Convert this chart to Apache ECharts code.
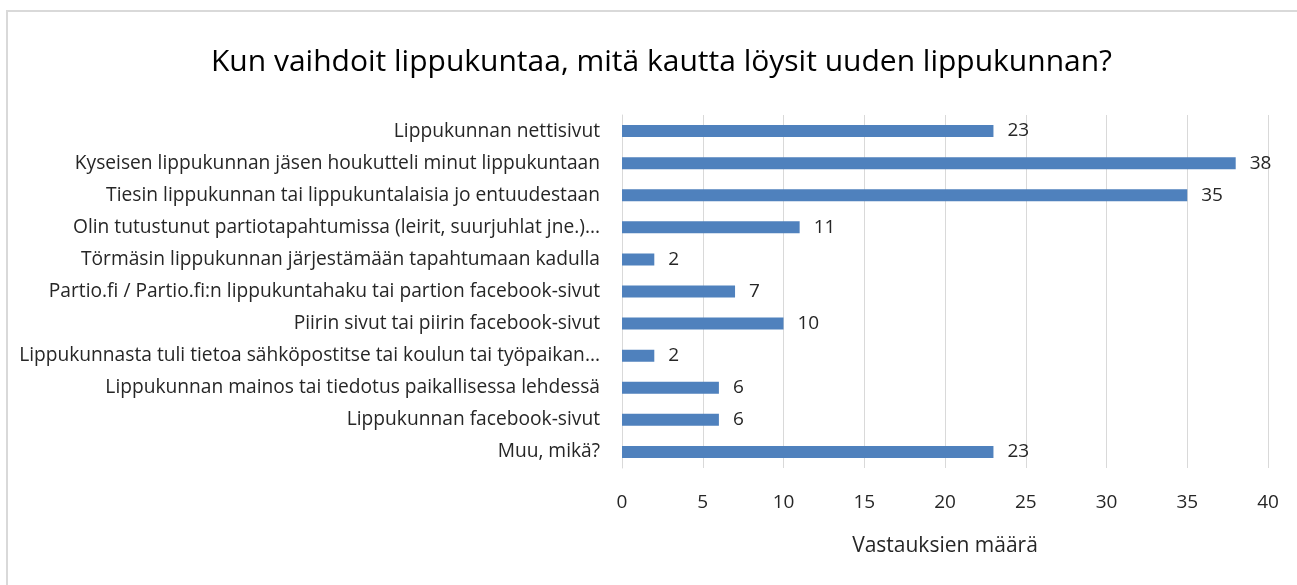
<!DOCTYPE html>
<html>
<head>
<meta charset="utf-8">
<script src="https://cdn.jsdelivr.net/npm/echarts@6/dist/echarts.min.js"></script>
<style>
  html, body { margin: 0; padding: 0; background: #fff; }
  #chart { width: 1297px; height: 585px; }
</style>
</head>
<body>
<div id="chart"></div>
<script>
var titleText = 'Kun vaihdoit lippukuntaa, mitä kautta löysit uuden lippukunnan?';
var axisName = 'Vastauksien määrä';
var categories = [
  'Lippukunnan nettisivut',
  'Kyseisen lippukunnan jäsen houkutteli minut lippukuntaan',
  'Tiesin lippukunnan tai lippukuntalaisia jo entuudestaan',
  'Olin tutustunut partiotapahtumissa (leirit, suurjuhlat jne.)...',
  'Törmäsin lippukunnan järjestämään tapahtumaan kadulla',
  'Partio.fi / Partio.fi:n lippukuntahaku tai partion facebook-sivut',
  'Piirin sivut tai piirin facebook-sivut',
  'Lippukunnasta tuli tietoa sähköpostitse tai koulun tai työpaikan...',
  'Lippukunnan mainos tai tiedotus paikallisessa lehdessä',
  'Lippukunnan facebook-sivut',
  'Muu, mikä?'
];
var counts = [23, 38, 35, 11, 2, 7, 10, 2, 6, 6, 23];
var axisMin = 0, axisMax = 40, axisStep = 5;

var font = 'Open Sans';
var chart = echarts.init(document.getElementById('chart'));
chart.setOption({
  animation: false,
  title: {
    text: titleText,
    left: 206,
    top: 42,
    textStyle: { fontFamily: font, fontSize: 30, fontWeight: 'normal', color: '#000' }
  },
  graphic: [{
    type: 'rect',
    silent: true,
    shape: { x: 7, y: 11, width: 1400, height: 700 },
    style: { fill: 'none', stroke: '#d9d9d9', lineWidth: 2 }
  }],
  grid: { left: 622, right: 29, top: 115, bottom: 117 },
  xAxis: {
    type: 'value',
    min: axisMin,
    max: axisMax,
    interval: axisStep,
    name: axisName,
    nameLocation: 'middle',
    nameGap: 68,
    nameTextStyle: { fontFamily: font, fontSize: 21, color: '#262626' },
    axisLine: { show: false },
    axisTick: { show: false },
    axisLabel: { fontFamily: font, fontSize: 19, color: '#262626', margin: 25 },
    splitLine: { lineStyle: { color: '#d9d9d9', width: 1 } }
  },
  yAxis: {
    type: 'category',
    inverse: true,
    data: categories,
    axisLine: { lineStyle: { color: '#d9d9d9', width: 1 } },
    axisTick: { show: false },
    axisLabel: { fontFamily: font, fontSize: 19.2, color: '#262626', margin: 22 }
  },
  series: [{
    type: 'bar',
    data: counts,
    barWidth: 12,
    itemStyle: { color: '#4f81bd' },
    label: {
      show: true,
      position: 'right',
      distance: 14,
      fontFamily: font,
      fontSize: 19,
      color: '#262626'
    }
  }]
});
</script>
</body>
</html>
